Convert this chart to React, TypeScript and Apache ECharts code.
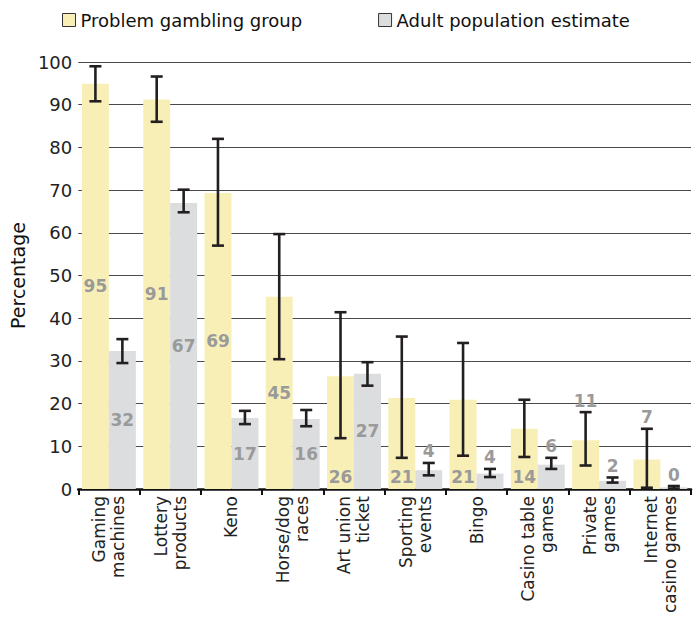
import React, { useEffect, useRef } from "react";
import * as echarts from "echarts";

const categories = [
  "Gaming\nmachines",
  "Lottery\nproducts",
  "Keno",
  "Horse/dog\nraces",
  "Art union\nticket",
  "Sporting\nevents",
  "Bingo",
  "Casino table\ngames",
  "Private\ngames",
  "Internet\ncasino games",
];

const seriesNames = ["Problem gambling group", "Adult population estimate"];

const problemValues = [94.9, 91.2, 69.3, 45.0, 26.4, 21.3, 20.9, 14.1, 11.4, 6.9];
const problemLow = [90.8, 86.0, 57.0, 30.4, 11.9, 7.3, 7.8, 7.5, 5.5, 0.3];
const problemHigh = [99.0, 96.6, 82.0, 59.7, 41.4, 35.7, 34.2, 20.9, 18.0, 14.1];

const adultValues = [32.3, 67.0, 16.6, 16.4, 27.0, 4.4, 3.6, 5.7, 1.9, 0.4];
const adultLow = [29.5, 64.8, 15.2, 14.7, 24.2, 3.2, 2.8, 4.7, 1.5, 0.1];
const adultHigh = [35.1, 70.1, 18.3, 18.5, 29.7, 6.1, 4.7, 7.3, 2.7, 0.7];

// where each value label sits: inside (centre), bottom (inside bottom), above (over error bar)
const problemLabelPlace = ["inside", "inside", "inside", "inside", "bottom", "bottom", "bottom", "bottom", "above", "above"];
const adultLabelPlace = ["inside", "inside", "inside", "inside", "inside", "above", "above", "above", "above", "above"];

const yTicks = { min: 0, max: 100, interval: 10 };

const FONT = "DejaVu Sans";
const YELLOW = "#f8efb6";
const GREY = "#dcdddf";
const LABEL_GREY = "#9a9a9a";
const ERR = "#231f20";
const CAT_GAP = 0.12;

function barData(values: number[], places: string[]) {
  return values.map((v, i) => {
    const p = places[i];
    if (p === "above") return { value: v, label: { show: false } };
    return {
      value: v,
      label: {
        show: true,
        position: p === "bottom" ? "insideBottom" : "inside",
        distance: 4,
      },
    };
  });
}

function errorSeries(
  low: number[],
  high: number[],
  values: number[],
  places: string[],
  sign: number
) {
  return {
    type: "custom",
    z: 5,
    silent: true,
    data: low.map((lo, i) => [i, lo, high[i]]),
    renderItem: (params: any, api: any) => {
      const i = params.dataIndex;
      const x = api.value(0);
      const lo = api.value(1);
      const hi = api.value(2);
      const band = api.size([1, 0])[0];
      const bw = (band * (1 - CAT_GAP)) / 2;
      const base = api.coord([x, lo]);
      const cx = base[0] + (sign * bw) / 2;
      const yLo = base[1];
      const yHi = api.coord([x, hi])[1];
      const cap = 6;
      const style = { stroke: ERR, lineWidth: 2.6 };
      const children: any[] = [
        { type: "line", shape: { x1: cx, y1: yLo, x2: cx, y2: yHi }, style },
        { type: "line", shape: { x1: cx - cap, y1: yHi, x2: cx + cap, y2: yHi }, style },
        { type: "line", shape: { x1: cx - cap, y1: yLo, x2: cx + cap, y2: yLo }, style },
      ];
      if (places[i] === "above") {
        children.push({
          type: "text",
          style: {
            text: String(Math.round(values[i])),
            x: cx,
            y: yHi - 3,
            align: "center",
            verticalAlign: "bottom",
            fill: LABEL_GREY,
            font: `bold 17px "${FONT}"`,
          },
        });
      }
      return { type: "group", children };
    },
  };
}

export default function App() {
  const ref = useRef<HTMLDivElement>(null);

  useEffect(() => {
    document.body.style.margin = "0";
    const chart = echarts.init(ref.current!, null, { renderer: "svg" });
    const labelStyle = {
      color: LABEL_GREY,
      fontFamily: FONT,
      fontSize: 17,
      fontWeight: "bold",
      formatter: (p: any) => String(Math.round(p.value)),
    };
    chart.setOption({
      animation: false,
      textStyle: { fontFamily: FONT },
      legend: {
        data: seriesNames,
        left: 62,
        top: 11,
        padding: 0,
        itemWidth: 13,
        itemHeight: 13,
        itemGap: 76,
        icon: "rect",
        itemStyle: { borderColor: "#333", borderWidth: 1 },
        textStyle: { fontFamily: FONT, fontSize: 18, color: "#111" },
      },
      grid: { left: 76, right: 3, top: 62, bottom: 139, containLabel: false },
      xAxis: {
        type: "category",
        data: categories,
        axisLine: { lineStyle: { color: "#111", width: 2.6 } },
        axisTick: { show: true, length: 6, interval: 0, lineStyle: { color: "#111", width: 2 } },
        axisLabel: {
          rotate: 90,
          interval: 0,
          fontFamily: FONT,
          fontSize: 17,
          lineHeight: 19,
          color: "#222",
          margin: 7,
        },
      },
      yAxis: {
        type: "value",
        min: yTicks.min,
        max: yTicks.max,
        interval: yTicks.interval,
        name: "Percentage",
        nameLocation: "middle",
        nameGap: 42,
        nameTextStyle: { fontFamily: FONT, fontSize: 19, color: "#111" },
        axisLine: { show: false },
        axisTick: { show: false },
        axisLabel: { fontFamily: FONT, fontSize: 18, color: "#222", margin: 6 },
        splitLine: { lineStyle: { color: "#4a4a4a", width: 1.2 } },
      },
      series: [
        {
          name: seriesNames[0],
          type: "bar",
          barGap: "0%",
          barCategoryGap: `${CAT_GAP * 100}%`,
          itemStyle: { color: YELLOW },
          label: labelStyle,
          data: barData(problemValues, problemLabelPlace),
        },
        {
          name: seriesNames[1],
          type: "bar",
          barGap: "0%",
          barCategoryGap: `${CAT_GAP * 100}%`,
          itemStyle: { color: GREY },
          label: labelStyle,
          data: barData(adultValues, adultLabelPlace),
        },
        errorSeries(problemLow, problemHigh, problemValues, problemLabelPlace, -1),
        errorSeries(adultLow, adultHigh, adultValues, adultLabelPlace, 1),
      ],
    });
    return () => chart.dispose();
  }, []);

  return (
    <div
      ref={ref}
      style={{ width: 694, height: 628, position: "absolute", left: 0, top: 0 }}
    />
  );
}
